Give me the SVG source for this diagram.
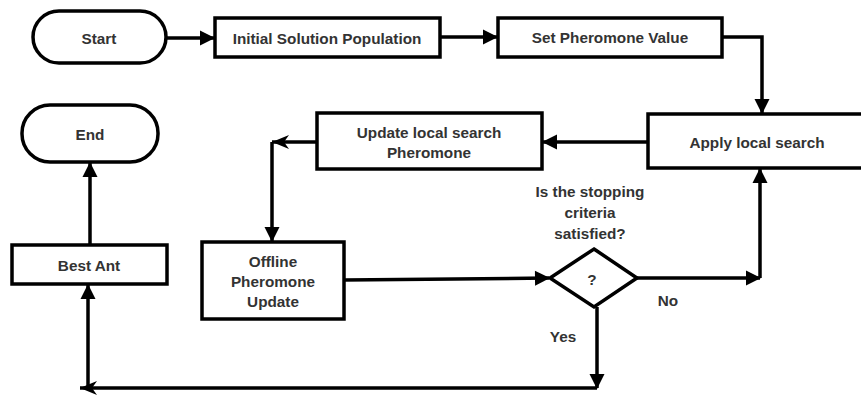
<svg xmlns="http://www.w3.org/2000/svg" width="861" height="397" viewBox="0 0 861 397">
  <style>
    .box { fill: #fff; stroke: #000; stroke-width: 3.5; }
    .lbl { font-family: "Liberation Sans", Arial, sans-serif; font-size: 15.3px; font-weight: bold; fill: #333; text-anchor: middle; dominant-baseline: central; }
    .wire { fill: none; stroke: #000; stroke-width: 3.5; }
  </style>
  <defs>
    <marker id="tri" markerUnits="userSpaceOnUse" markerWidth="17" markerHeight="17" viewBox="0 0 17 17" refX="15" refY="8.5" orient="auto">
      <path d="M1,1 L16,8.5 L1,16 Z" fill="#000"/>
    </marker>
    <marker id="notch" markerUnits="userSpaceOnUse" markerWidth="18" markerHeight="16" viewBox="0 0 18 16" refX="17" refY="8" orient="auto">
      <path d="M0,1 L17,8 L0,15 L5,8 Z" fill="#000"/>
    </marker>
  </defs>

  <rect width="861" height="397" fill="#fff"/>

  <g id="connectors">
    <!-- top row -->
    <path class="wire" d="M166,38 L214,38" marker-end="url(#tri)"/>
    <path class="wire" d="M440,37 L497,37" marker-end="url(#tri)"/>
    <path class="wire" d="M722,37 L762,37 L762,113" marker-end="url(#tri)"/>
    <!-- local search to update -->
    <path class="wire" d="M648,142 L543,142" marker-end="url(#tri)"/>
    <path class="wire" d="M317,142 L272,142" marker-end="url(#notch)"/>
    <path class="wire" d="M272,142 L272,241" marker-end="url(#tri)"/>
    <!-- offline update to decision -->
    <path class="wire" d="M344,280 L549,278" marker-end="url(#tri)"/>
    <!-- No branch -->
    <path class="wire" d="M637,278 L760,278" marker-end="url(#tri)"/>
    <path class="wire" d="M760,278 L760,169" marker-end="url(#tri)"/>
    <!-- Yes branch -->
    <path class="wire" d="M597,307 L597,388" marker-end="url(#tri)"/>
    <path class="wire" d="M597,388 L80,388" marker-end="url(#notch)"/>
    <path class="wire" d="M88,388 L88,285" marker-end="url(#tri)"/>
    <!-- best ant to end -->
    <path class="wire" d="M90,245 L90,163" marker-end="url(#tri)"/>
  </g>

  <g id="start">
    <rect class="box" x="33" y="11" width="133" height="52" rx="26"/>
    <text class="lbl" x="99" y="38">Start</text>
  </g>
  <g id="initial-population">
    <rect class="box" x="215" y="18" width="225" height="39"/>
    <text class="lbl" x="327" y="38">Initial Solution Population</text>
  </g>
  <g id="set-pheromone">
    <rect class="box" x="498" y="18" width="224" height="39"/>
    <text class="lbl" x="610" y="37">Set Pheromone Value</text>
  </g>
  <g id="apply-local-search">
    <rect class="box" x="648" y="114" width="230" height="54"/>
    <text class="lbl" x="757" y="142">Apply local search</text>
  </g>
  <g id="update-local-pheromone">
    <rect class="box" x="317" y="113" width="225" height="56"/>
    <text class="lbl" x="429" y="132">Update local search</text>
    <text class="lbl" x="429" y="152">Pheromone</text>
  </g>
  <g id="offline-update">
    <rect class="box" x="202" y="242" width="142" height="77"/>
    <text class="lbl" x="273" y="261">Offline</text>
    <text class="lbl" x="273" y="281">Pheromone</text>
    <text class="lbl" x="273" y="301">Update</text>
  </g>
  <g id="decision">
    <path class="box" d="M594,249 L637,278 L594,307 L550,278 Z"/>
    <text class="lbl" x="592" y="279">?</text>
    <text class="lbl" x="590" y="191">Is the stopping</text>
    <text class="lbl" x="590" y="212">criteria</text>
    <text class="lbl" x="590" y="233">satisfied?</text>
    <text class="lbl" x="668" y="300">No</text>
    <text class="lbl" x="563" y="336">Yes</text>
  </g>
  <g id="best-ant">
    <rect class="box" x="12" y="245" width="155" height="39"/>
    <text class="lbl" x="89" y="265">Best Ant</text>
  </g>
  <g id="end">
    <rect class="box" x="22" y="105" width="136" height="57" rx="28"/>
    <text class="lbl" x="90" y="134">End</text>
  </g>
</svg>
